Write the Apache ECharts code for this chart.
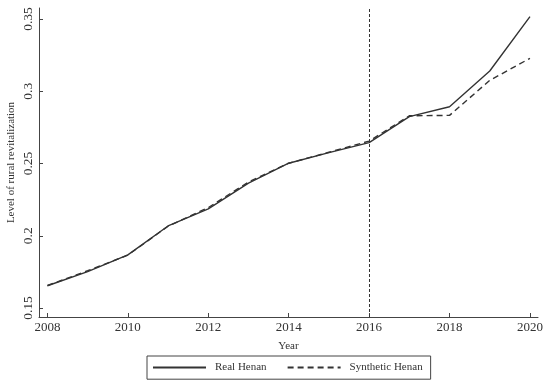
<!DOCTYPE html>
<html>
<head>
<meta charset="utf-8">
<script src="https://cdn.jsdelivr.net/npm/echarts@6/dist/echarts.min.js"></script>
<style>html,body{margin:0;padding:0;background:#fff}#c{width:550px;height:388px}</style>
</head>
<body>
<div id="c"></div>
<script>
const years = [2008, 2009, 2010, 2011, 2012, 2013, 2014, 2015, 2016, 2017, 2018, 2019, 2020];
const realHenan = [0.1654, 0.1752, 0.1868, 0.2068, 0.2186, 0.2364, 0.2502, 0.2575, 0.2645, 0.2824, 0.2893, 0.3140, 0.3516];
const syntheticHenan = [0.1656, 0.1758, 0.1866, 0.2066, 0.2195, 0.2372, 0.2502, 0.2578, 0.2655, 0.2830, 0.2833, 0.3075, 0.3228];
const xTicks = [2008, 2010, 2012, 2014, 2016, 2018, 2020];
const yTicks = [0.15, 0.2, 0.25, 0.3, 0.35];
const treatmentYear = 2016;

const font = 'Liberation Serif';
const chart = echarts.init(document.getElementById('c'));
chart.setOption({
  animation: false,
  backgroundColor: '#fff',
  grid: { left: 39, right: 12, top: 8, bottom: 71, outerBoundsMode: 'none', containLabel: false },
  xAxis: {
    type: 'value', min: 2007.79, max: 2020.2,
    name: 'Year', nameLocation: 'middle', nameGap: 24, nameMoveOverlap: false,
    nameTextStyle: { fontFamily: font, fontSize: 11, color: '#333' },
    splitLine: { show: false },
    axisLine: { lineStyle: { color: '#444', width: 1 } },
    axisTick: { inside: true, length: 4, customValues: xTicks, lineStyle: { color: '#444' } },
    axisLabel: { customValues: xTicks, margin: 4, fontFamily: font, fontSize: 13, color: '#333',
      formatter: v => String(Math.round(v)) }
  },
  yAxis: {
    type: 'value', min: 0.1438, max: 0.3576,
    name: 'Level of rural revitalization', nameLocation: 'middle', nameGap: 22, nameRotate: 90,
    nameMoveOverlap: false,
    nameTextStyle: { fontFamily: font, fontSize: 11, color: '#333' },
    splitLine: { show: false },
    axisLine: { show: true, lineStyle: { color: '#444', width: 1 } },
    axisTick: { show: true, inside: true, length: 4, customValues: yTicks, lineStyle: { color: '#444' } },
    axisLabel: { customValues: yTicks, rotate: 90, margin: 4, fontFamily: font, fontSize: 13.5, color: '#333',
      formatter: v => String(+v.toFixed(2)) }
  },
  legend: {
    left: 147, top: 356,
    padding: [6, 8, 6, 5],
    itemGap: 20, itemWidth: 53, itemHeight: 14,
    borderColor: '#444', borderWidth: 1,
    itemStyle: { opacity: 0 },
    textStyle: { fontFamily: font, fontSize: 11, color: '#333', padding: [0, 0, 0, 4] },
    data: ['Real Henan', 'Synthetic Henan']
  },
  series: [
    {
      name: 'Real Henan', type: 'line', symbol: 'none',
      data: years.map((y, i) => [y, realHenan[i]]),
      lineStyle: { color: '#333', width: 1.4 },
      itemStyle: { color: '#333' },
      markLine: {
        silent: true, symbol: 'none', label: { show: false },
        lineStyle: { color: '#333', type: [3, 2], width: 1 },
        data: [{ xAxis: treatmentYear }]
      }
    },
    {
      name: 'Synthetic Henan', type: 'line', symbol: 'none',
      data: years.map((y, i) => [y, syntheticHenan[i]]),
      lineStyle: { color: '#333', width: 1.4, type: [6, 4] },
      itemStyle: { color: '#333' }
    }
  ]
});
</script>
</body>
</html>
